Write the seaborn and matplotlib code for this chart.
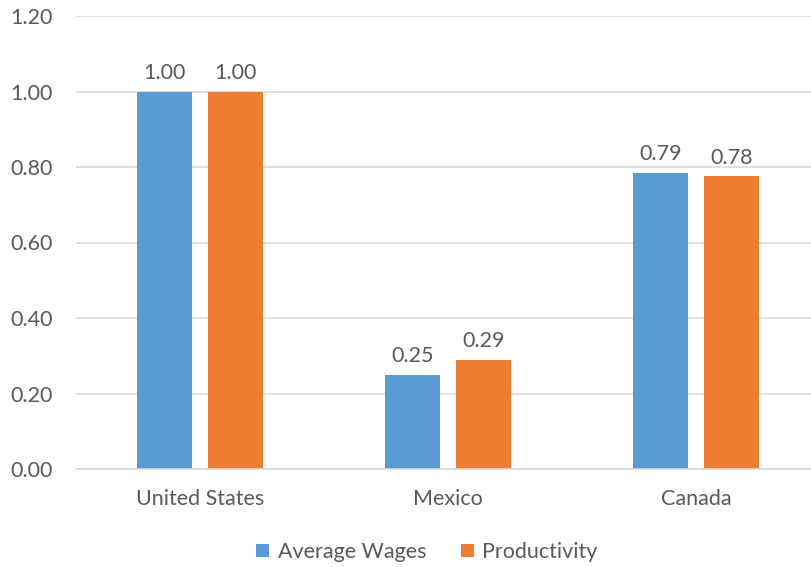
import matplotlib
matplotlib.use("Agg")
import matplotlib.pyplot as plt
import seaborn as sns
import pandas as pd
from matplotlib.patches import Patch

countries = ["United States", "Mexico", "Canada"]
series_names = ["Average Wages", "Productivity"]
average_wages = [1.00, 0.25, 0.785]
productivity = [1.00, 0.29, 0.775]
wage_labels = ["1.00", "0.25", "0.79"]
prod_labels = ["1.00", "0.29", "0.78"]
yticks = [0.0, 0.2, 0.4, 0.6, 0.8, 1.0, 1.2]

colors = ["#5B9BD5", "#ED7D31"]
text_color = "#595959"

df = pd.DataFrame({
    "Country": countries * 2,
    "Series": [series_names[0]] * 3 + [series_names[1]] * 3,
    "Value": average_wages + productivity,
})

sns.set_theme(style="white")
plt.rcParams['font.family'] = ['Lato', 'DejaVu Sans']

fs = 15.5
fig = plt.figure(figsize=(8.12, 5.67), dpi=100)
W, H = 812, 567
left, right, top, bottom = 76, 812, 16, 469
ax = fig.add_axes([left / W, 1 - bottom / H, (right - left) / W, (bottom - top) / H])

sns.barplot(data=df, x="Country", y="Value", hue="Series", palette=colors,
            width=0.572, gap=0.23, ax=ax, legend=False, saturation=1, linewidth=0)

ax.set_ylim(0, 1.2)
cat_w = 248
ax.set_xlim(-0.5, -0.5 + (right - left) / cat_w)
ax.set_yticks(yticks)
ax.set_yticklabels([f"{t:.2f}" for t in yticks])
ax.yaxis.grid(True, color="#D9D9D9", linewidth=1.2)
ax.set_axisbelow(True)
for s in ["top", "right", "left"]:
    ax.spines[s].set_visible(False)
ax.spines["bottom"].set_color("#D9D9D9")
ax.spines["bottom"].set_linewidth(1.2)
ax.tick_params(axis="both", length=0, colors=text_color, labelsize=fs)
ax.tick_params(axis="x", pad=14.5)
ax.tick_params(axis="y", pad=16.5)
ax.set_xlabel("")
ax.set_ylabel("")

for cont, labels in zip(ax.containers, [wage_labels, prod_labels]):
    ax.bar_label(cont, labels=labels, padding=6, color=text_color, fontsize=fs)

handles = [Patch(facecolor=c, edgecolor="none") for c in colors]
fig.legend(handles, series_names, loc="center", bbox_to_anchor=(427 / W, 1 - 552 / H),
           ncol=2, frameon=False, fontsize=fs, labelcolor=text_color,
           handlelength=0.6, handleheight=0.6, handletextpad=0.4, columnspacing=1.6)

fig.savefig("out.png", dpi=100, facecolor="white")
